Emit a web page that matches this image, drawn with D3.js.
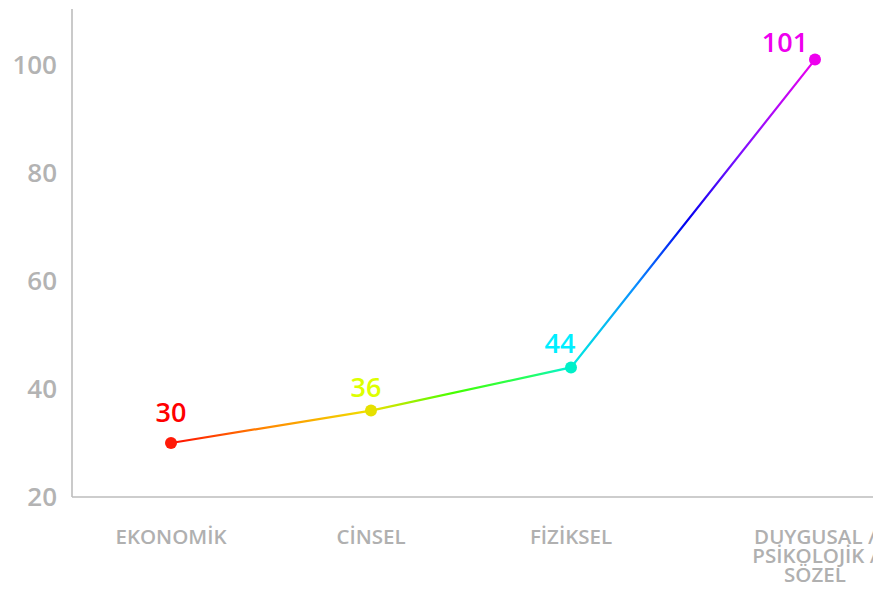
<!DOCTYPE html>
<html>
<head>
<meta charset="utf-8">
<script src="https://cdn.jsdelivr.net/npm/d3@7"></script>
<style>
  html, body { margin: 0; padding: 0; background: #ffffff; }
  svg { display: block; font-family: "Open Sans", sans-serif; }
</style>
</head>
<body>
<svg id="chart" width="873" height="601"></svg>
<script>
// Violence types and number of reported cases
const categories = ["EKONOMİK", "CİNSEL", "FİZİKSEL", "DUYGUSAL / PSİKOLOJİK / SÖZEL"];
const values = [30, 36, 44, 101];
const yTicks = [20, 40, 60, 80, 100];
const dotColors = ["#ff1a08", "#e6e000", "#00f0c8", "#ee00ee"];
const labelColors = ["#ff0000", "#ddff00", "#00eeff", "#ee00ee"];

// Layout
const W = 873, H = 601;
const axisX = 72, axisBottom = 497, axisTop = 9;
const slot = [0, 1, 2, 3.22];          // horizontal slot of each category
const labelShift = [0, -5, -11, -30];  // horizontal nudge of the value labels
const labelLift = [21, 14, 14, 8];     // gap between dot and value label baseline

const svg = d3.select("#chart");

const y = d3.scaleLinear().domain([20, 110]).range([axisBottom, 11]);
const xs = d3.scaleLinear().domain([0, 3]).range([171, 771]);
const x = (d, i) => xs(slot[i]);

// Rainbow stroke along the line
const defs = svg.append("defs");
const grad = defs.append("linearGradient")
  .attr("id", "rainbow")
  .attr("gradientUnits", "userSpaceOnUse")
  .attr("x1", x(null, 0)).attr("x2", x(null, 3))
  .attr("y1", 0).attr("y2", 0);
[
  [0.00, "#ff0a00"],
  [0.15, "#ff8a00"],
  [0.31, "#f0e000"],
  [0.44, "#44ff00"],
  [0.56, "#22ff66"],
  [0.62, "#00f0e0"],
  [0.72, "#0a90ff"],
  [0.80, "#0000f0"],
  [0.88, "#7a10ff"],
  [1.00, "#ee00ee"]
].forEach(([o, c]) => grad.append("stop").attr("offset", o).attr("stop-color", c));

// Axes
svg.append("line")
  .attr("x1", axisX).attr("x2", axisX)
  .attr("y1", axisTop).attr("y2", axisBottom)
  .attr("stroke", "#bdbdbd").attr("stroke-width", 1.6);
svg.append("line")
  .attr("x1", axisX).attr("x2", W)
  .attr("y1", axisBottom).attr("y2", axisBottom)
  .attr("stroke", "#bdbdbd").attr("stroke-width", 1.6);

// Y tick labels
svg.append("g").selectAll("text")
  .data(yTicks)
  .join("text")
  .attr("x", 57)
  .attr("y", d => y(d))
  .attr("dy", "0.35em")
  .attr("text-anchor", "end")
  .attr("font-size", 26)
  .attr("font-weight", 600)
  .attr("fill", "#b3b3b3")
  .text(d => d);

// Category labels (split on " / ")
const cat = svg.append("g").selectAll("text")
  .data(categories)
  .join("text")
  .attr("text-anchor", "middle")
  .attr("font-size", 20.5)
  .attr("font-weight", 600)
  .attr("fill", "#b0b0b0");
cat.each(function(d, i) {
  const parts = d.split(" / ");
  const t = d3.select(this);
  parts.forEach((p, j) => {
    t.append("tspan")
      .attr("x", x(d, i))
      .attr("y", 544 + j * 19)
      .text(j < parts.length - 1 ? p + " /" : p);
  });
});

// Line
const line = d3.line()
  .x((d, i) => x(d, i))
  .y(d => y(d));
svg.append("path")
  .datum(values)
  .attr("d", line)
  .attr("fill", "none")
  .attr("stroke", "url(#rainbow)")
  .attr("stroke-width", 2.2);

// Dots
svg.append("g").selectAll("circle")
  .data(values)
  .join("circle")
  .attr("cx", (d, i) => x(d, i))
  .attr("cy", d => y(d))
  .attr("r", 6)
  .attr("fill", (d, i) => dotColors[i]);

// Value labels
svg.append("g").selectAll("text")
  .data(values)
  .join("text")
  .attr("x", (d, i) => x(d, i) + labelShift[i])
  .attr("y", (d, i) => y(d) - labelLift[i])
  .attr("text-anchor", "middle")
  .attr("font-size", 27)
  .attr("font-weight", 600)
  .attr("fill", (d, i) => labelColors[i])
  .text(d => d);
</script>
</body>
</html>
